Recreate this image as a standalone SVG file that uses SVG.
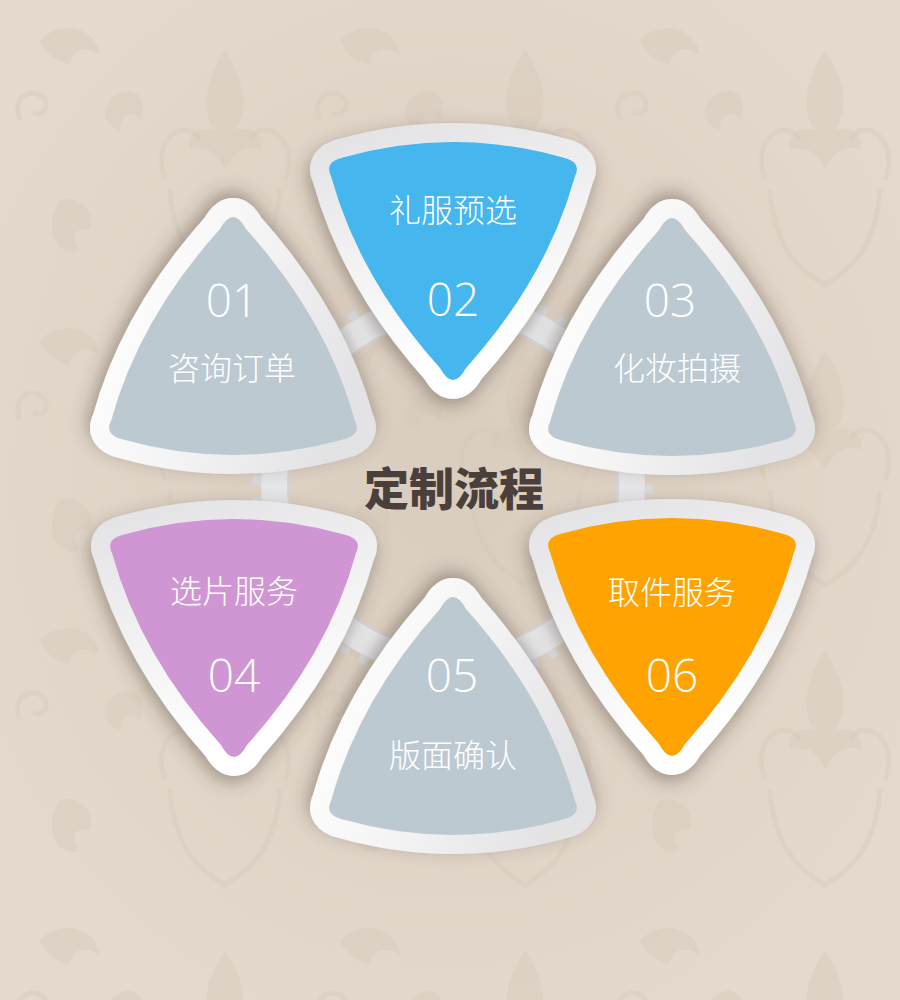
<svg xmlns="http://www.w3.org/2000/svg" xmlns:xlink="http://www.w3.org/1999/xlink" width="900" height="1000" viewBox="0 0 900 1000">
  <defs>
    <style>
      .tri { stroke: url(#rim); stroke-width: 38; stroke-linejoin: round; paint-order: stroke; filter: url(#shadow); }
      .up { stroke: url(#rimUp); }
      .gray { fill: #bdc9d1; }
      .blue { fill: #45b6ee; }
      .purple { fill: #cf96d3; }
      .orange { fill: #fea304; }
      .num { font-family: "Open Sans", "Liberation Sans", sans-serif; font-weight: 300; font-size: 46px; fill: #ffffff; text-anchor: middle; }
      .lbl { font-family: "Noto Sans CJK SC", "Noto Sans", sans-serif; font-weight: 300; font-size: 32px; fill: #ffffff; text-anchor: middle; }
      .title { font-family: "Noto Sans CJK SC", sans-serif; font-weight: 900; font-size: 45px; fill: #4b3f3b; text-anchor: middle; }
      .motif { fill: #d6c9b9; opacity: 0.38; }
      .motifline { fill: none; stroke: #d6c9b9; stroke-width: 5; opacity: 0.38; }
    </style>
    <linearGradient id="rim" x1="0" y1="0" x2="0.3" y2="1">
      <stop offset="0" stop-color="#e4e4e7"/>
      <stop offset="0.5" stop-color="#f2f2f3"/>
      <stop offset="1" stop-color="#ffffff"/>
    </linearGradient>
    <linearGradient id="rimUp" x1="1" y1="0.3" x2="0" y2="0.7">
      <stop offset="0" stop-color="#e3e3e6"/>
      <stop offset="0.5" stop-color="#f3f3f4"/>
      <stop offset="1" stop-color="#ffffff"/>
    </linearGradient>
    <radialGradient id="bgGrad" cx="0.5" cy="0.48" r="0.6">
      <stop offset="0" stop-color="#d9cdbf"/>
      <stop offset="1" stop-color="#e4d9cc"/>
    </radialGradient>
    <filter id="shadow" x="-25%" y="-25%" width="150%" height="150%">
      <feDropShadow dx="-2" dy="6" stdDeviation="9" flood-color="#4e4033" flood-opacity="0.45"/>
    </filter>
    <pattern id="damask" x="0" y="0" width="300" height="300" patternUnits="userSpaceOnUse">
      <path class="motif" d="M225,50 C205,80 200,110 215,130 C200,125 185,135 190,150 C205,145 215,150 225,170 C235,150 245,145 260,150 C265,135 250,125 235,130 C250,110 245,80 225,50 Z"/>
      <path class="motifline" d="M165,180 C150,140 185,115 200,140 M285,180 C300,140 265,115 250,140"/>
      <path class="motifline" d="M170,190 C175,250 200,270 225,285 C250,270 275,250 280,190"/>
      <path class="motif" d="M60,200 C40,230 60,260 80,250 C70,240 75,225 90,230 C95,210 80,195 60,200 Z"/>
      <path class="motif" d="M40,40 C60,20 95,25 100,55 C85,45 70,50 70,65 C55,60 45,55 40,40 Z"/>
      <path class="motifline" d="M20,120 C10,95 35,85 45,100 C50,110 40,118 33,112"/>
      <path class="motif" d="M110,100 C130,80 150,95 140,120 C130,110 120,115 120,130 C105,125 100,112 110,100 Z"/>
    </pattern>
    <path id="tri" d="M -110,15.5 Q 0,-15.5 110,15.5 Q 129,20 122,34 Q 94,136 13,226 Q 0,250 -13,226 Q -94,136 -122,34 Q -129,20 -110,15.5 Z"/>
  </defs>

  <rect x="0" y="0" width="900" height="1000" fill="url(#bgGrad)"/>
  <rect x="0" y="0" width="900" height="1000" fill="url(#damask)"/>

  <g id="gear-ring">
    <circle cx="453" cy="485" r="178" fill="none" stroke="#e5e6e8" stroke-width="28"/>
    <circle cx="453" cy="485" r="196" fill="none" stroke="#d9dadd" stroke-width="9" stroke-dasharray="9 13"/>
    <circle cx="453" cy="485" r="165" fill="none" stroke="#d2d3d6" stroke-width="2"/>
  </g>

  <g id="connectors"></g>

  <g id="node-01">
    <use href="#tri" xlink:href="#tri" class="tri up gray" transform="translate(233,455) scale(1,-1)"/>
    <text class="num" x="232" y="317">01</text>
    <text class="lbl" x="232" y="380">咨询订单</text>
  </g>

  <g id="node-02">
    <use href="#tri" xlink:href="#tri" class="tri blue" transform="translate(453,142)"/>
    <text class="lbl" x="453" y="222">礼服预选</text>
    <text class="num" x="453" y="316">02</text>
  </g>

  <g id="node-03">
    <use href="#tri" xlink:href="#tri" class="tri up gray" transform="translate(672,456) scale(1,-1)"/>
    <text class="num" x="670" y="317">03</text>
    <text class="lbl" x="677" y="380">化妆拍摄</text>
  </g>

  <g id="node-04">
    <use href="#tri" xlink:href="#tri" class="tri purple" transform="translate(234,519)"/>
    <text class="lbl" x="234" y="603">选片服务</text>
    <text class="num" x="234" y="692">04</text>
  </g>

  <g id="node-05">
    <use href="#tri" xlink:href="#tri" class="tri up gray" transform="translate(453,835) scale(1,-1)"/>
    <text class="num" x="452" y="692">05</text>
    <text class="lbl" x="453" y="767">版面确认</text>
  </g>

  <g id="node-06">
    <use href="#tri" xlink:href="#tri" class="tri orange" transform="translate(672,518)"/>
    <text class="lbl" x="672" y="604">取件服务</text>
    <text class="num" x="672" y="692">06</text>
  </g>

  <g id="title">
    <text class="title" x="454" y="506">定制流程</text>
  </g>
</svg>
